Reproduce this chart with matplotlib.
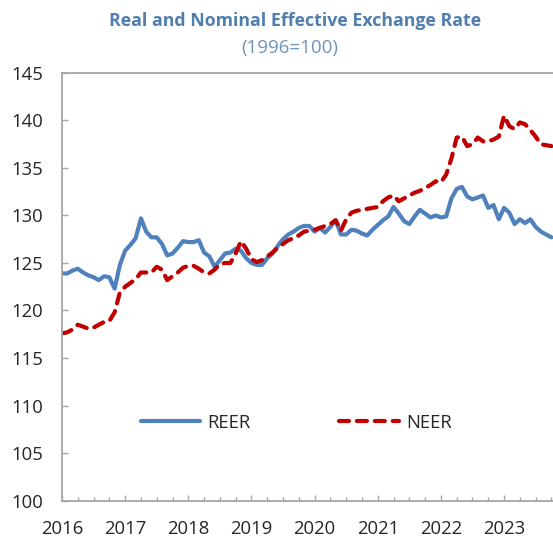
import numpy as np
import matplotlib.pyplot as plt
from matplotlib.ticker import MultipleLocator

# monthly index values, Jan 2016 onwards (1996=100)
reer = [123.9, 123.9, 124.2, 124.4, 124.0, 123.7, 123.5, 123.2, 123.6, 123.5, 122.3, 124.8,
        126.3, 126.9, 127.6, 129.7, 128.3, 127.7, 127.7, 127.0, 125.8, 126.0, 126.6, 127.3,
        127.2, 127.2, 127.4, 126.1, 125.7, 124.6, 125.3, 126.0, 126.1, 126.5, 126.3, 125.5,
        125.0, 124.8, 124.8, 125.5, 126.0, 126.8, 127.5, 128.0, 128.3, 128.7, 128.9, 128.9,
        128.3, 128.7, 128.2, 128.8, 129.5, 128.0, 128.0, 128.5, 128.4, 128.1, 127.9, 128.5,
        129.0, 129.5, 129.9, 130.9, 130.2, 129.4, 129.1, 129.9, 130.6, 130.2, 129.8, 130.0,
        129.8, 129.9, 131.8, 132.8, 133.0, 132.0, 131.7, 131.9, 132.1, 130.8, 131.1, 129.6,
        130.8, 130.3, 129.1, 129.6, 129.2, 129.6, 128.8, 128.3, 128.0, 127.7]
neer = [117.6, 117.7, 118.0, 118.5, 118.3, 118.1, 118.2, 118.5, 118.8, 118.9, 119.8, 121.9,
        122.5, 122.9, 123.3, 124.0, 124.0, 124.0, 124.6, 124.3, 123.2, 123.6, 124.0, 124.5,
        124.7, 124.7, 124.4, 124.0, 123.9, 124.3, 124.9, 125.0, 125.0, 126.0, 127.3, 126.5,
        125.4, 125.1, 125.3, 125.7, 126.1, 126.6, 127.0, 127.4, 127.6, 127.9, 128.3, 128.4,
        128.5, 128.7, 128.9, 129.1, 129.5, 128.4, 129.6, 130.3, 130.5, 130.6, 130.7, 130.8,
        130.9, 131.5, 131.9, 132.1, 131.5, 131.8, 132.1, 132.4, 132.6, 132.9, 133.2, 133.6,
        133.5, 134.3, 136.0, 138.2, 138.3, 137.3, 137.5, 138.2, 137.8, 137.8, 138.0, 138.3,
        140.5, 139.4, 139.1, 139.8, 139.6, 139.0, 138.3, 137.5, 137.4, 137.3]
years = list(range(2016, 2024))

t = 2016 + np.arange(len(reer)) / 12

plt.rcParams['font.family'] = ['Open Sans', 'DejaVu Sans']

fig = plt.figure(figsize=(5.53, 5.39), dpi=100)
ax = fig.add_axes([0.1121, 0.0714, 0.8879, 0.7932])

ax.plot(t, reer, color='#4F81BD', lw=3.0, solid_capstyle='round', label='REER')
ax.plot(t, neer, color='#C00000', lw=3.0, dashes=(2.4, 1.9), dash_capstyle='round', label='NEER')

ax.set_ylim(100, 145)
ax.set_xlim(2016, 2016 + 93.3 / 12)
ax.set_yticks(range(100, 146, 5))
ax.set_xticks(years)
ax.set_xticklabels([str(y) for y in years])
ax.xaxis.set_minor_locator(MultipleLocator(0.25))

grey = '#A6A6A6'
for side in ['left', 'bottom', 'top']:
    ax.spines[side].set_color(grey)
    ax.spines[side].set_linewidth(1.3)
ax.spines['right'].set_visible(False)

ax.tick_params(axis='y', direction='in', length=4.5, width=1, color=grey,
               labelsize=13.3, labelcolor='#262626', pad=13.5)
ax.tick_params(axis='x', which='major', direction='in', length=4.5, width=1, color=grey,
               labelsize=13.3, labelcolor='#262626', pad=14)
ax.tick_params(axis='x', which='minor', direction='in', length=3, width=1, color=grey)

leg = ax.legend(ncol=2, frameon=False, fontsize=13.3, loc='center left',
                bbox_to_anchor=(141 / 553, 1 - 422.5 / 539), bbox_transform=fig.transFigure,
                borderpad=0, borderaxespad=0, handlelength=3.2, handletextpad=0.4,
                columnspacing=4.8)
for txt in leg.get_texts():
    txt.set_color('#262626')

fig.text(295 / 553, 1 - 21.5 / 539, 'Real and Nominal Effective Exchange Rate',
         ha='center', va='center', fontsize=12.8, fontweight='bold', color='#4F7FAF')
fig.text(290 / 553, 1 - 47.5 / 539, '(1996=100)', ha='center', va='center',
         fontsize=13.5, color='#6F93BF')

fig.savefig('out.png', dpi=100)
